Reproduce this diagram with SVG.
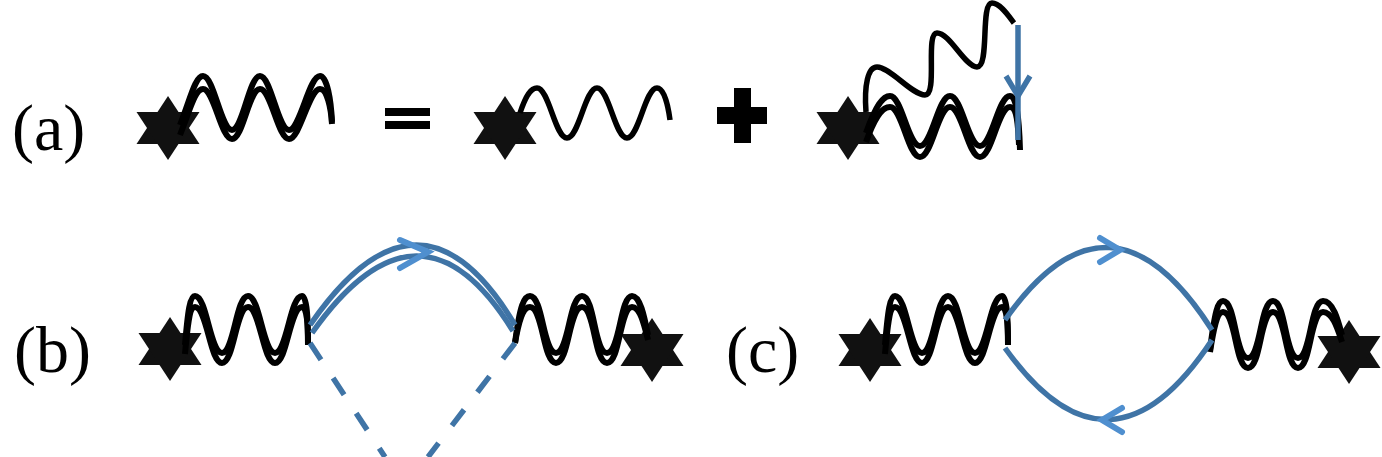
<svg xmlns="http://www.w3.org/2000/svg" width="1382" height="457" viewBox="0 0 1382 457">
<style>
.lbl{font-family:"Liberation Serif","Times New Roman",serif;font-size:66px;fill:#000}
.w{fill:none;stroke:#000;stroke-width:6;stroke-linecap:butt}
.w1{fill:none;stroke:#000;stroke-width:5.5}
.b{fill:none;stroke:#3f74a6;stroke-width:5.5}
.ar{fill:none;stroke:#4f8fcf;stroke-width:6;stroke-linecap:round}
</style>
<defs>
<g id="star"><polygon points="0,-32 31.5,16 -31.5,16" fill="#111"/><polygon points="0,32 31.5,-16 -31.5,-16" fill="#111"/></g>
</defs>
<rect width="1382" height="457" fill="#fff"/>
<text class="lbl" x="12" y="150">(a)</text>
<text class="lbl" x="14" y="372">(b)</text>
<text class="lbl" x="726" y="372">(c)</text>
<g id="a1">
<use href="#star" x="168" y="128"/>
<path class="w" d="M180,125 C190,100 195,76 203,76 C214,76 221,130 232,130 C243,130 249,76 260,76 C271,76 278,130 289,130 C300,130 309,76 320,76 C327,76 331,100 332,122"/>
<path class="w" d="M180,135 C190,110 195,89 203,89 C214,89 221,139 232,139 C243,139 249,89 260,89 C271,89 278,139 289,139 C300,139 309,89 320,89 C327,89 331,108 332,124"/>
</g>
<g id="eq"><rect x="385" y="108" width="45" height="8"/><rect x="385" y="121" width="45" height="8"/></g>
<g id="a2">
<use href="#star" x="505" y="128"/>
<path class="w1" d="M520,113 C526,95 531,88 537,88 C549,88 555,138 567,138 C579,138 585,88 597,88 C609,88 615,138 627,138 C639,138 645,88 657,88 C664,88 668,105 670,120"/>
</g>
<g id="plus"><rect x="734" y="88" width="17" height="55"/><rect x="717" y="107" width="50" height="17"/></g>
<g id="a3">
<use href="#star" x="848" y="128"/>
<path class="w" d="M866,133 C876,105 883,96 890,96 C902,96 908,146 920,146 C932,146 938,96 950,96 C962,96 968,146 980,146 C992,146 998,96 1010,96 C1016,96 1019,115 1020,150"/>
<path class="w" d="M866,142 C876,114 883,107 890,107 C902,107 908,157 920,157 C932,157 938,107 950,107 C962,107 968,157 980,157 C992,157 998,107 1010,107 C1016,107 1018,120 1019,145"/>
<path class="w1" d="M866,112 C864,85 868,67 877,67 C890,67 912,95 925,95 C938,95 925,33 937,33 C950,33 965,67 977,67 C990,67 980,3 992,3 C1000,3 1008,15 1014,23"/>
</g>
<g id="b1">
<use href="#star" x="170" y="349"/>
<path class="w" d="M185,345 C188,310 190,296 195,296 C207,296 210,353 222,353 C234,353 236,296 248,296 C260,296 263,353 275,353 C287,353 290,296 302,296 C307,296 308,320 308,345"/>
<path class="w" d="M185,354 C188,320 190,307 195,307 C207,307 210,363 222,363 C234,363 236,307 248,307 C260,307 263,363 275,363 C287,363 290,307 302,307 C307,307 308,325 308,345"/>
</g>
<g id="b2">
<use href="#star" x="652" y="350"/>
<path class="w" d="M515,343 C520,305 524,296 530,296 C543,296 543,353 556,353 C569,353 569,296 582,296 C595,296 594,353 607,353 C620,353 620,296 632,296 C640,296 644,315 648,335"/>
<path class="w" d="M515,343 C520,314 524,307 530,307 C543,307 543,363 556,363 C569,363 569,307 582,307 C595,307 594,363 607,363 C620,363 620,307 632,307 C640,307 644,324 648,340"/>
</g>
<g id="c1">
<use href="#star" x="870" y="350"/>
<path class="w" d="M885,345 C888,310 890,296 895,296 C907,296 910,353 922,353 C934,353 936,296 948,296 C960,296 963,353 975,353 C987,353 990,296 1002,296 C1007,296 1008,320 1008,345"/>
<path class="w" d="M885,354 C888,320 890,307 895,307 C907,307 910,363 922,363 C934,363 936,307 948,307 C960,307 963,363 975,363 C987,363 990,307 1002,307 C1007,307 1008,325 1008,345"/>
</g>
<g id="c2">
<use href="#star" x="1349" y="352"/>
<path class="w" d="M1210,350 C1215,310 1218,301 1223,301 C1236,301 1235,358 1248,358 C1261,358 1260,301 1273,301 C1286,301 1285,358 1298,358 C1311,358 1310,301 1323,301 C1333,301 1338,320 1342,335"/>
<path class="w" d="M1210,352 C1215,320 1218,312 1223,312 C1236,312 1235,368 1248,368 C1261,368 1260,312 1273,312 C1286,312 1285,368 1298,368 C1311,368 1310,312 1323,312 C1333,312 1338,330 1342,342"/>
</g>
<g id="connectors">
<path class="b" d="M1018,25 L1018,140"/>
<path class="b" d="M1006,76 L1018,96 L1030,76"/>
<path class="b" d="M310,325 Q420,165 515,325"/>
<path class="b" d="M312,333 Q420,180 513,331"/>
<path class="ar" d="M400,240 L428,252 L400,268"/>
<path class="b" d="M310,343 L385,457" stroke-dasharray="20 22"/>
<path class="b" d="M515,343 L428,457" stroke-dasharray="20 22"/>
<path class="b" d="M1005,320 Q1110,170 1212,330"/>
<path class="b" d="M1005,348 Q1110,495 1212,340"/>
<path class="ar" d="M1100,238 L1120,250 L1100,262"/>
<path class="ar" d="M1122,408 L1102,420 L1122,432"/>
</g>
</svg>
